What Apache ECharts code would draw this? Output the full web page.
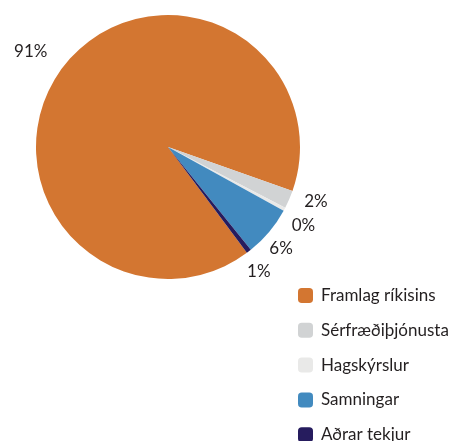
<!DOCTYPE html>
<html>
<head>
<meta charset="utf-8">
<script src="https://cdn.jsdelivr.net/npm/echarts@6/dist/echarts.min.js"></script>
<style>
  html, body { margin: 0; padding: 0; background: #fff; }
  #chart { width: 465px; height: 441px; }
</style>
</head>
<body>
<div id="chart"></div>
<script>
// tekjuskipting
const categories = ['Framlag ríkisins', 'Sérfræðiþjónusta', 'Hagskýrslur', 'Samningar', 'Aðrar tekjur'];
const values = [90.6, 2.2, 0.4, 6.2, 0.6];
const colors = ['#D37631', '#D1D3D4', '#E9E9E8', '#428ABF', '#261C5E'];

// small nudges (dx, dy) so the labels sit like in the original
const labelNudge = [[-10, -2], [3, -8], [-4, 4], [-8, 0], [-6, 0]];

const chart = echarts.init(document.getElementById('chart'));

const pieData = categories.map((name, i) => ({
  name: name,
  value: values[i],
  itemStyle: { color: colors[i] }
}));

const option = {
  animation: false,
  legend: {
    orient: 'vertical',
    left: 298,
    top: 287,
    height: 200,
    padding: 0,
    itemWidth: 15,
    itemHeight: 15,
    itemGap: 17.8,
    selectedMode: false,
    data: categories.map((name, i) => ({ name: name, itemStyle: { color: colors[i] } })),
    textStyle: { fontFamily: 'Lato', fontSize: 17, color: '#231F20', padding: [0, 0, 0, 3] }
  },
  series: [
    {
      type: 'pie',
      center: [168, 147],
      radius: 132,
      startAngle: 306.7,
      clockwise: true,
      label: { show: false },
      labelLine: { show: false },
      itemStyle: { borderWidth: 0 },
      emphasis: { disabled: true },
      data: pieData
    },
    {
      // gegnsær hringur bara fyrir prósentumerkin
      type: 'pie',
      center: [168, 147],
      radius: [144, 166],
      startAngle: 306.7,
      clockwise: true,
      silent: true,
      avoidLabelOverlap: false,
      itemStyle: { color: 'transparent' },
      labelLine: { show: false },
      label: {
        show: true,
        position: 'inside',
        fontFamily: 'Lato',
        fontSize: 17,
        color: '#231F20',
        formatter: p => Math.round(p.percent) + '%'
      },
      labelLayout: p => ({
        dx: labelNudge[p.dataIndex][0],
        dy: labelNudge[p.dataIndex][1],
        hideOverlap: false
      }),
      emphasis: { disabled: true },
      data: categories.map((name, i) => ({ name: name, value: values[i] }))
    }
  ]
};

chart.setOption(option);
</script>
</body>
</html>
